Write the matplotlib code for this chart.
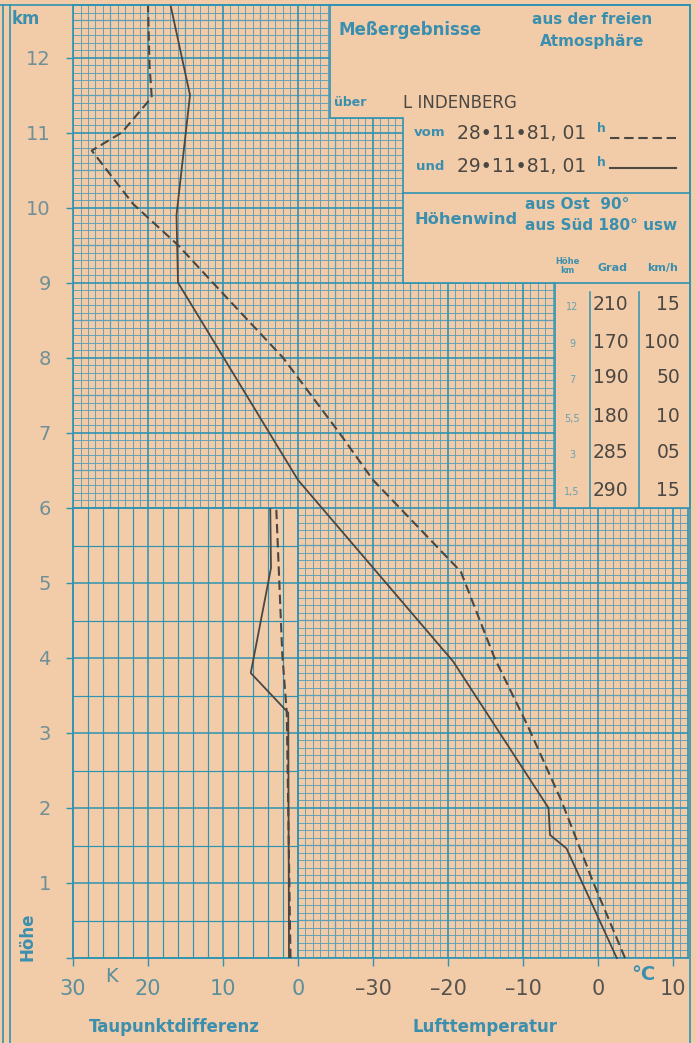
# Meßergebnisse aus der freien Atmosphäre - Lindenberg, 28./29.11.1981
import matplotlib.pyplot as plt
import numpy as np
from matplotlib.lines import Line2D
from matplotlib.patches import Polygon

plt.rcParams['font.family'] = ['DejaVu Sans']

# temperature profiles (height km, temperature °C)
h_29 = [0.0, 1.46, 1.64, 2.0, 3.95, 6.37, 9.0, 9.9, 11.5, 12.7]
t_29 = [2.5, -4.2, -6.4, -6.6, -19.3, -40.0, -56.0, -56.2, -54.4, -57.0]
h_28 = [0.0, 1.0, 2.1, 3.1, 4.0, 5.15, 6.37, 7.0, 8.0, 8.8, 9.5, 10.05, 10.76, 11.0, 11.47, 11.9, 12.7]
t_28 = [3.6, -0.6, -4.9, -9.4, -13.8, -18.3, -30.0, -34.5, -42.0, -49.5, -56.0, -62.0, -67.5, -63.5, -59.5, -59.8, -60.0]

# dew point depression (height km, K)
td_h_29 = [0.0, 3.27, 3.8, 5.2, 6.0]
td_29 = [1.2, 1.3, 6.3, 3.6, 3.7]
td_h_28 = [0.0, 3.27, 4.06, 5.03, 6.0]
td_28 = [1.0, 1.5, 2.1, 2.5, 2.9]

# upper wind table
wind_h = ['12', '9', '7', '5,5', '3', '1,5']
wind_dir = ['210', '170', '190', '180', '285', '290']
wind_speed = ['15', '100', '50', '10', '05', '15']

paper = '#f2cca9'
teal = '#2f93b3'
teal_lt = '#5e9fb8'
ink = '#4b4743'
lbl = '#3b8fae'

W, H = 696, 1043
def fx(x):
    return x / W
def fy(y):
    return 1 - y / H

fig = plt.figure(figsize=(6.96, 10.43), dpi=100, facecolor=paper)

# main temperature diagram
ax = fig.add_axes([fx(73), fy(958), (688 - 73) / W, (958 - 5) / H])
ax.set_facecolor(paper)
ax.set_xlim(-70, 12)
ax.set_ylim(0, 12.7)

tt = np.arange(-70, 13, 1)
hh = np.round(np.arange(0, 12.71, 0.1), 1)
for t in tt:
    if t % 10 == 0:
        ax.axvline(t, color=teal, lw=1.2, zorder=2)
    elif t % 5 == 0:
        ax.axvline(t, color=teal_lt, lw=0.9, zorder=1)
    else:
        ax.axvline(t, color=teal_lt, lw=0.65, zorder=1)
for h in hh:
    if abs(h - round(h)) < 1e-6:
        ax.axhline(h, color=teal, lw=1.2, zorder=2)
    elif abs(h * 2 - round(h * 2)) < 1e-6:
        ax.axhline(h, color=teal_lt, lw=0.9, zorder=1)
    else:
        ax.axhline(h, color=teal_lt, lw=0.65, zorder=1)

ax.plot(t_29, h_29, color=ink, lw=1.3, zorder=5, clip_on=False)
ax.plot(t_28, h_28, color=ink, lw=1.5, dashes=(4.5, 2.3), zorder=5, clip_on=False)

ax.set_xticks([-30, -20, -10, 0, 10])
ax.set_xticklabels(['\u201330', '\u201320', '\u201310', '0', '10'])
ax.set_yticks(np.arange(0, 13, 1))
ax.set_yticklabels([''] + [str(i) for i in range(1, 13)])
ax.tick_params(axis='x', direction='out', length=6, width=1, color=teal,
               labelsize=15, labelcolor='#57534e', pad=9)
ax.tick_params(axis='y', direction='out', length=5, width=1, color=teal,
               labelsize=14, labelcolor='#6f9098', pad=11)
for s in ax.spines.values():
    s.set_color(teal)
    s.set_linewidth(1.2)

# panel with heading and wind table
panel = [(330, 5), (690, 5), (690, 508), (555, 508), (555, 283),
         (403, 283), (403, 118), (330, 118)]
ax.add_patch(Polygon([(fx(x), fy(y)) for x, y in panel], closed=True,
                     transform=fig.transFigure, facecolor=paper,
                     edgecolor=teal, lw=1.2, zorder=3, clip_on=False))

# dew point depression diagram
ax2 = fig.add_axes([fx(73), fy(958), (298 - 73) / W, (958 - 508) / H])
ax2.set_zorder(2)
ax2.set_facecolor(paper)
ax2.set_xlim(30, 0)
ax2.set_ylim(0, 6)
for d in np.arange(0, 31, 2):
    ax2.axvline(d, color=teal, lw=1.1 if d % 10 == 0 else 0.85, zorder=1)
for h in np.arange(0, 6.01, 0.5):
    ax2.axhline(h, color=teal, lw=1.1 if h % 1 == 0 else 0.85, zorder=1)
ax2.plot(td_29, td_h_29, color=ink, lw=1.3, zorder=5)
ax2.plot(td_28, td_h_28, color=ink, lw=1.5, dashes=(4.5, 2.3), zorder=5)
ax2.set_xticks([30, 20, 10, 0])
ax2.set_xticklabels(['30', '20', '10', '0'])
ax2.set_yticks([])
ax2.tick_params(axis='x', direction='out', length=6, width=1, color=teal,
                labelsize=15, labelcolor='#5a8f9c', pad=9)
for s in ax2.spines.values():
    s.set_color(teal)
    s.set_linewidth(1.2)

# frame lines
for x in (3, 10, 690):
    fig.add_artist(Line2D([fx(x), fx(x)], [0, fy(5)], color=teal, lw=1.2))
fig.add_artist(Line2D([0, fx(690)], [fy(5), fy(5)], color=teal, lw=1.2))
fig.add_artist(Line2D([fx(403), fx(690)], [fy(193), fy(193)], color=teal, lw=1.2, zorder=4))
fig.add_artist(Line2D([fx(555), fx(690)], [fy(283), fy(283)], color=teal, lw=1.2, zorder=4))
for x in (590, 639):
    fig.add_artist(Line2D([fx(x), fx(x)], [fy(508), fy(292)], color=teal, lw=1.1, zorder=4))

# legend samples
fig.add_artist(Line2D([fx(610), fx(676)], [fy(138), fy(138)], color=ink, lw=1.5, dashes=(4.5, 2.3)))
fig.add_artist(Line2D([fx(610), fx(676)], [fy(168), fy(168)], color=ink, lw=1.5))

def txt(x, y, s, size, color=lbl, weight='bold', ha='center', **kw):
    fig.text(fx(x), fy(y), s, fontsize=size, color=color, fontweight=weight,
             ha=ha, va='center', **kw)

txt(410, 30, 'Meßergebnisse', 12)
txt(592, 20, 'aus der freien', 11)
txt(592, 42, 'Atmosphäre', 11)
txt(350, 103, 'über', 9)
txt(403, 103, 'L INDENBERG', 12, color=ink, weight='normal', ha='left')
txt(430, 133, 'vom', 9.5)
txt(430, 166, 'und', 9.5)
txt(457, 134, '28\u202211\u202281, 01', 13.5, color=ink, weight='normal', ha='left')
txt(457, 167, '29\u202211\u202281, 01', 13.5, color=ink, weight='normal', ha='left')
txt(601, 129, 'h', 9)
txt(601, 162, 'h', 9)
txt(466, 219, 'Höhenwind', 11.7)
txt(525, 204, 'aus Ost  90°', 11, ha='left')
txt(525, 226, 'aus Süd 180° usw', 11, ha='left')
txt(567, 266, 'Höhe\nkm', 6, linespacing=0.9)
txt(612, 268, 'Grad', 8)
txt(663, 268, 'km/h', 8)

row_y = [305, 342, 378, 417, 453, 490]
for y, hk, dg, sp in zip(row_y, wind_h, wind_dir, wind_speed):
    txt(572, y + 2, hk, 7, color='#6aa0b0', weight='normal')
    txt(593, y, dg, 13.5, color=ink, weight='normal', ha='left')
    txt(680, y, sp, 13.5, color=ink, weight='normal', ha='right')

txt(26, 19, 'km', 12)
txt(28, 937, 'Höhe', 12, rotation=90)
txt(111, 976, 'K', 14, color='#5a8f9c', weight='normal')
txt(643, 975, '°C', 14)
txt(174, 1027, 'Taupunktdifferenz', 12)
txt(485, 1027, 'Lufttemperatur', 12)

fig.savefig('out.png', dpi=100, facecolor=paper)
